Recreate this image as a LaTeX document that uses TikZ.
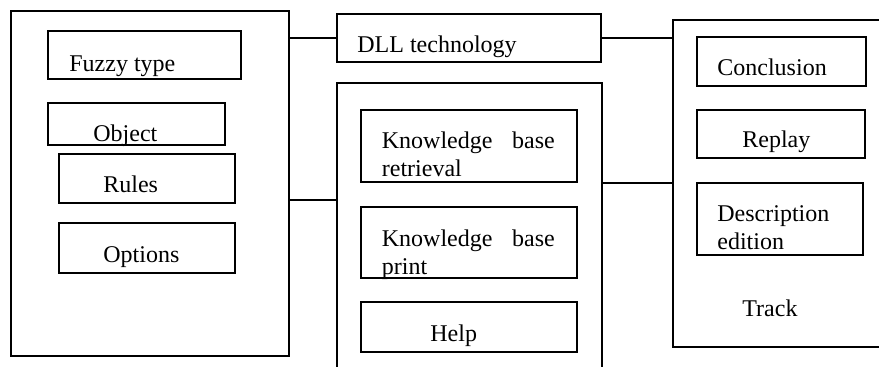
\documentclass[tikz,border=0pt]{standalone}
\usepackage{fontspec}
\setmainfont{Liberation Serif}
\usepackage{tikz}
\usetikzlibrary{fit}

\begin{document}
\begin{tikzpicture}[
  x=0.5pt, y=-0.5pt,
  panel/.style={draw=black, line width=0.7pt, inner sep=0pt, outer sep=0pt},
  lbl/.style={inner sep=0pt, anchor=base west, font=\fontsize{12}{13.8}\selectfont},
  lbltwo/.style={lbl, text width=#1, align=left},
  link/.style={draw=black, line width=0.7pt}
]
\clip (0,0) rectangle (879,367);

% left panel
\node[panel, fit={(11,11) (289,356)}] (left) {};
\node[panel, fit={(48,31) (241,79)}] (fuzzy) {};
\node[panel, fit={(48,103) (225,145)}] (object) {};
\node[panel, fit={(59,154) (235,203)}] (rules) {};
\node[panel, fit={(59,223) (235,273)}] (options) {};
\node[lbl] (fuzzy-t) at (69,72) {Fuzzy type};
\node[lbl] (object-t) at (93,142) {Object};
\node[lbl] (rules-t) at (103,193) {Rules};
\node[lbl] (options-t) at (103,263) {Options};

% middle panel
\node[panel, fit={(337,14) (601,62)}] (dll) {};
\node[lbl] (dll-t) at (357,53) {DLL technology};
\node[panel, fit={(337,83) (602,380)}] (mid) {};
\node[panel, fit={(361,110) (577,182)}] (kbr) {};
\node[panel, fit={(361,207) (577,278)}] (kbp) {};
\node[panel, fit={(361,302) (577,352)}] (help) {};
\node[lbltwo=86.5pt] (kbr-t) at (381.5,148.5) {Knowledge\hfill base\\retrieval};
\node[lbltwo=86.5pt] (kbp-t) at (381.5,246.5) {Knowledge\hfill base\\print};
\node[lbl] (help-t) at (430,342) {Help};

% right panel
\node[panel, fit={(673,20) (890,347)}] (right) {};
\node[panel, fit={(697,37) (866,86)}] (concl) {};
\node[panel, fit={(697,110) (865,158)}] (replay) {};
\node[panel, fit={(697,183) (863,255)}] (desc) {};
\node[lbl] (concl-t) at (717,76) {Conclusion};
\node[lbl] (replay-t) at (742,148) {Replay};
\node[lbltwo=80pt] (desc-t) at (717,221.5) {Description\\edition};
\node[lbl] (track-t) at (742,317) {Track};

% connectors
\coordinate (j1) at (0,200);
\coordinate (j2) at (0,183);
\draw[link] (left.east |- dll.west) -- (dll.west);
\draw[link] (left.east |- j1) -- (mid.west |- j1);
\draw[link] (dll.east) -- (dll.east -| right.west);
\draw[link] (mid.east |- j2) -- (right.west |- j2);
\end{tikzpicture}
\end{document}
